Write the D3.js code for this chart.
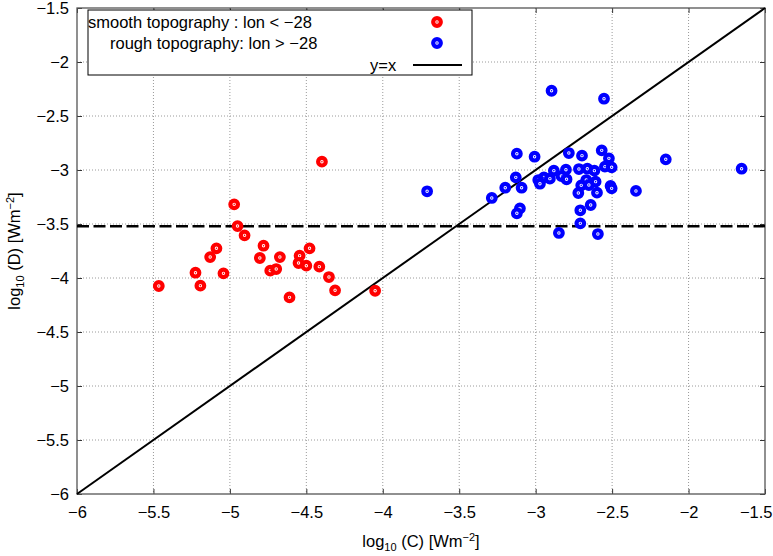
<!DOCTYPE html>
<html>
<head>
<meta charset="utf-8">
<script src="https://cdn.jsdelivr.net/npm/d3@7/dist/d3.min.js"></script>
<style>
  html, body { margin: 0; padding: 0; background: #fff; }
  svg { display: block; font-family: "Liberation Sans", Arial, sans-serif; }
</style>
</head>
<body>
<div id="chart"></div>
<script>
/* --- données ------------------------------------------------------------- */
var smoothC = [-4.398, -4.972, -4.950, -4.904, -5.088, -5.129, -5.225, -5.193, -5.465, -5.042,
               -4.780, -4.804, -4.673, -4.736, -4.697, -4.610, -4.544, -4.551, -4.500, -4.479,
               -4.415, -4.352, -4.312, -4.050];
var smoothD = [-2.923, -3.318, -3.519, -3.605, -3.725, -3.806, -3.951, -4.071, -4.074, -3.957,
               -3.701, -3.815, -3.806, -3.932, -3.917, -4.179, -3.793, -3.861, -3.886, -3.725,
               -3.895, -3.991, -4.114, -4.118];

var roughC = [-2.896, -2.553, -3.123, -3.007, -2.783, -2.697, -2.568, -2.521, -2.547, -2.503,
              -2.149, -2.881, -2.802, -2.717, -2.662, -2.616, -2.946, -2.907, -2.832, -2.798,
              -2.983, -2.972, -3.130, -3.199, -3.092, -3.287, -2.669, -2.608, -2.702, -2.652,
              -2.510, -2.503, -2.344, -2.721, -2.599, -2.640, -2.708, -3.103, -3.123, -2.708,
              -2.848, -2.593, -3.710, -1.653];
var roughD = [-2.266, -2.340, -2.849, -2.877, -2.843, -2.867, -2.818, -2.892, -2.969, -2.975,
              -2.901, -3.006, -2.997, -2.991, -2.988, -3.006, -3.068, -3.080, -3.056, -3.086,
              -3.093, -3.127, -3.068, -3.164, -3.164, -3.259, -3.093, -3.108, -3.142, -3.139,
              -3.148, -3.170, -3.194, -3.213, -3.210, -3.324, -3.373, -3.355, -3.401, -3.494,
              -3.583, -3.593, -3.197, -2.988];

var xTicks = [-6, -5.5, -5, -4.5, -4, -3.5, -3, -2.5, -2, -1.5];
var yTicks = [-6, -5.5, -5, -4.5, -4, -3.5, -3, -2.5, -2, -1.5];
var seuil = -3.52;   // ligne horizontale tiretée

var legendItems = [
  { label: 'smooth topography : lon < \u221228', kind: 'pt', color: '#ff0000' },
  { label: 'rough topography: lon > \u221228',   kind: 'pt', color: '#0000ff' },
  { label: 'y=x',                                 kind: 'line', color: '#000000' }
];

/* --- dimensions ----------------------------------------------------------- */
var W = 773, H = 556;
var L = 77, R = 765, T = 8, B = 494;
var FS = 16.5;

var x = d3.scaleLinear().domain([-6, -1.5]).range([L, R]);
var y = d3.scaleLinear().domain([-6, -1.5]).range([B, T]);

var svg = d3.select('#chart').append('svg').attr('width', W).attr('height', H);

/* --- grille pointillée ---------------------------------------------------- */
var grid = svg.append('g');
grid.selectAll('line.gx').data(xTicks.slice(1, -1)).join('line')
  .attr('x1', function (d) { return x(d); }).attr('x2', function (d) { return x(d); })
  .attr('y1', T).attr('y2', B)
  .attr('stroke', '#9a9a9a').attr('stroke-width', 1).attr('stroke-dasharray', '1 2');
grid.selectAll('line.gy').data(yTicks.slice(1, -1)).join('line')
  .attr('y1', function (d) { return y(d); }).attr('y2', function (d) { return y(d); })
  .attr('x1', L).attr('x2', R)
  .attr('stroke', '#9a9a9a').attr('stroke-width', 1).attr('stroke-dasharray', '1 2');

/* --- axes ----------------------------------------------------------------- */
function fmt(d) { return d3.format('')(d).replace('-', '\u2212'); }

var axB = svg.append('g').attr('transform', 'translate(0,' + B + ')')
  .call(d3.axisBottom(x).tickValues(xTicks).tickFormat(fmt).tickSizeInner(-5).tickSizeOuter(0).tickPadding(12));
var axL = svg.append('g').attr('transform', 'translate(' + L + ',0)')
  .call(d3.axisLeft(y).tickValues(yTicks).tickFormat(fmt).tickSizeInner(-5).tickSizeOuter(0).tickPadding(8));
var axT = svg.append('g').attr('transform', 'translate(0,' + T + ')')
  .call(d3.axisTop(x).tickValues(xTicks).tickFormat('').tickSizeInner(-5).tickSizeOuter(0));
var axR = svg.append('g').attr('transform', 'translate(' + R + ',0)')
  .call(d3.axisRight(y).tickValues(yTicks).tickFormat('').tickSizeInner(-5).tickSizeOuter(0));

[axB, axL, axT, axR].forEach(function (a) {
  a.select('.domain').remove();
  a.selectAll('line').attr('stroke', '#333');
  a.selectAll('text').attr('font-size', FS).attr('fill', '#000')
    .attr('font-family', '"Liberation Sans", Arial, sans-serif');
});
/* dernier libellé de l'axe x : collé au bord droit comme dans l'original */
axB.selectAll('.tick').filter(function (d) { return d === -1.5; }).select('text')
  .attr('text-anchor', 'end').attr('x', W - 1 - R);

svg.append('rect').attr('x', L).attr('y', T).attr('width', R - L).attr('height', B - T)
  .attr('fill', 'none').attr('stroke', '#555').attr('stroke-width', 1.3);

/* --- droites -------------------------------------------------------------- */
var linesG = svg.append('g');
linesG.append('line')
  .attr('x1', x(-6)).attr('y1', y(-6)).attr('x2', x(-1.5)).attr('y2', y(-1.5))
  .attr('stroke', '#000').attr('stroke-width', 2);
linesG.append('line')
  .attr('x1', L).attr('x2', R).attr('y1', y(seuil)).attr('y2', y(seuil))
  .attr('stroke', '#000').attr('stroke-width', 2.5).attr('stroke-dasharray', '12 4.5');

/* --- marqueurs ------------------------------------------------------------ */
function marker(g, color) {
  g.append('circle').attr('r', 3.8).attr('fill', '#fff')
    .attr('stroke', color).attr('stroke-width', 4.2);
  g.append('circle').attr('r', 0.8).attr('fill', color);
}
function drawSeries(cs, ds, color) {
  var pts = cs.map(function (c, i) { return { c: c, d: ds[i] }; });
  svg.append('g').selectAll('g').data(pts).join('g')
    .attr('transform', function (p) { return 'translate(' + x(p.c) + ',' + y(p.d) + ')'; })
    .each(function () { marker(d3.select(this), color); });
}
drawSeries(smoothC, smoothD, '#ff0000');
drawSeries(roughC, roughD, '#0000ff');

/* --- légende -------------------------------------------------------------- */
var lg = svg.append('g');
lg.append('rect').attr('x', 88).attr('y', 10).attr('width', 384).attr('height', 65)
  .attr('fill', '#fff').attr('stroke', '#000').attr('stroke-width', 1);
var rows = [
  { tx: 88, ty: 28, mx: 437, my: 22 },
  { tx: 110, ty: 49, mx: 437, my: 43 },
  { tx: 370, ty: 71, mx: 437, my: 65 }
];
legendItems.forEach(function (it, i) {
  var r = rows[i];
  lg.append('text').attr('x', r.tx).attr('y', r.ty).attr('font-size', FS).attr('fill', '#000')
    .text(it.label);
  if (it.kind === 'pt') {
    var g = lg.append('g').attr('transform', 'translate(' + r.mx + ',' + r.my + ')');
    marker(g, it.color);
  } else {
    lg.append('line').attr('x1', 413).attr('x2', 462).attr('y1', r.my).attr('y2', r.my)
      .attr('stroke', it.color).attr('stroke-width', 2);
  }
});

/* --- titres des axes ------------------------------------------------------ */
var xt = svg.append('text').attr('x', (L + R) / 2).attr('y', 547)
  .attr('text-anchor', 'middle').attr('font-size', FS).attr('fill', '#000');
xt.append('tspan').text('log');
xt.append('tspan').attr('font-size', 11).attr('dy', 4).text('10');
xt.append('tspan').attr('dy', -4).text(' (C) [Wm');
xt.append('tspan').attr('font-size', 11).attr('dy', -6).text('\u22122');
xt.append('tspan').attr('dy', 6).text(']');

var yt = svg.append('text').attr('transform', 'translate(20,' + ((T + B) / 2) + ') rotate(-90)')
  .attr('text-anchor', 'middle').attr('font-size', FS).attr('fill', '#000');
yt.append('tspan').text('log');
yt.append('tspan').attr('font-size', 11).attr('dy', 4).text('10');
yt.append('tspan').attr('dy', -4).text(' (D) [Wm');
yt.append('tspan').attr('font-size', 11).attr('dy', -6).text('\u22122');
yt.append('tspan').attr('dy', 6).text(']');
</script>
</body>
</html>
